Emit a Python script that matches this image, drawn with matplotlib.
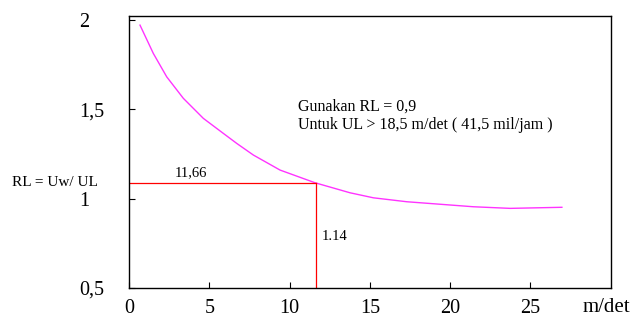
import matplotlib
matplotlib.use("Agg")
import matplotlib.pyplot as plt

# curve RL = Uw/UL vs wind speed UL (m/det)
ul = [0.685, 1.514, 2.349, 3.383, 4.629, 5.875, 6.71, 7.745, 9.408, 11.589,
      13.769, 15.221, 17.302, 19.377, 21.452, 23.738, 26.96]
rl = [1.969, 1.811, 1.680, 1.560, 1.448, 1.364, 1.308, 1.243, 1.159, 1.088,
      1.032, 1.004, 0.982, 0.968, 0.954, 0.945, 0.951]

x_ticks = [0, 5, 10, 15, 20, 25]
y_ticks = [0.5, 1.0, 1.5, 2.0]
y_ticklabels = ["0,5", "1", "1,5", "2"]

ul_mark = 11.66
rl_mark = 1.085

FONT = "Liberation Serif"
plt.rcParams["font.family"] = FONT

fig = plt.figure(figsize=(6.38, 3.22), dpi=100)
ax = fig.add_axes([129 / 638, 1 - 288 / 322, (610.7 - 129) / 638, (288 - 16) / 322])

ax.plot(ul, rl, color="#ff33ff", lw=1.0, solid_joinstyle="round")
ax.plot([0, ul_mark], [rl_mark, rl_mark], color="#ff0000", lw=0.9)
ax.plot([ul_mark, ul_mark], [0.5, rl_mark], color="#ff0000", lw=0.9)

ax.text(3.86, 1.145, "11,66", fontsize=10.5, ha="center", va="center")
ax.text(12.0, 0.788, "1.14", fontsize=10.5, ha="left", va="center")
ax.text(10.55, 1.462, "Gunakan RL = 0,9\nUntuk UL > 18,5 m/det ( 41,5 mil/jam )",
        fontsize=11.5, ha="left", va="center", linespacing=1.25)

ax.set_xlim(0, 30)
ax.set_ylim(0.5, 2.02)
ax.set_xticks(x_ticks)
ax.set_xticklabels([str(t) for t in x_ticks], fontsize=14.5)
ax.set_yticks(y_ticks)
ax.set_yticklabels(y_ticklabels, fontsize=14.5, ha="left")
ax.tick_params(axis="both", direction="in", length=4, width=0.8)
ax.tick_params(axis="y", pad=36)
ax.tick_params(axis="x", pad=8)
for s in ax.spines.values():
    s.set_linewidth(1.0)

fig.text(12 / 638, 1 - 182 / 322, "RL = Uw/ UL", fontsize=11, ha="left", va="center")
fig.text(583 / 638, 1 - 308 / 322, "m/det", fontsize=15, ha="left", va="center")

fig.savefig("out.png", dpi=100)
